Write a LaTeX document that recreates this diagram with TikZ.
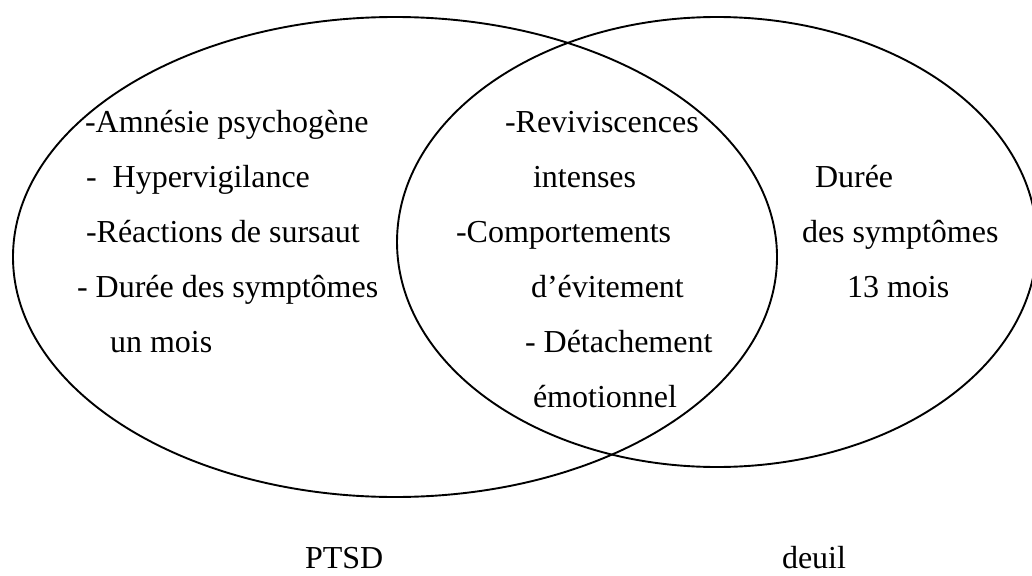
\documentclass[tikz,border=0pt]{standalone}
\usepackage{fontspec}
\setmainfont{Liberation Serif}
\tikzset{
  venn/.style={draw=black, line width=1.9pt},
  txt/.style={anchor=base west, inner sep=0pt, outer sep=0pt, font=\fontsize{32}{38}\selectfont}
}
\begin{document}
\begin{tikzpicture}[x=1pt,y=-1pt]
\useasboundingbox (0,0) rectangle (1032,575);
% ellipses
\draw[venn] (395,257) ellipse [x radius=382pt, y radius=240pt];
\draw[venn] (717,242) ellipse [x radius=320pt, y radius=225pt];
% left (PTSD only)
\node[txt] (l1) at (85,132) {-Amnésie psychogène};
\node[txt] (l2) at (86,187) {-~~Hypervigilance};
\node[txt] (l3) at (86,242) {-Réactions de sursaut};
\node[txt] (l4) at (77,297) {- Durée des symptômes};
\node[txt] (l5) at (110,352) {un mois};
% middle (common)
\node[txt] (m1) at (505,132) {-Reviviscences};
\node[txt] (m2) at (533,187) {intenses};
\node[txt] (m3) at (456,242) {-Comportements};
\node[txt] (m4) at (531,297) {d’évitement};
\node[txt] (m5) at (525,352) {- Détachement};
\node[txt] (m6) at (533,407) {émotionnel};
% right (deuil only)
\node[txt] (r1) at (815,187) {Durée};
\node[txt] (r2) at (802,242) {des symptômes};
\node[txt] (r3) at (847,297) {13 mois};
% labels
\node[txt] (ptsd) at (305,568) {PTSD};
\node[txt] (deuil) at (782,568) {deuil};
\end{tikzpicture}
\end{document}
